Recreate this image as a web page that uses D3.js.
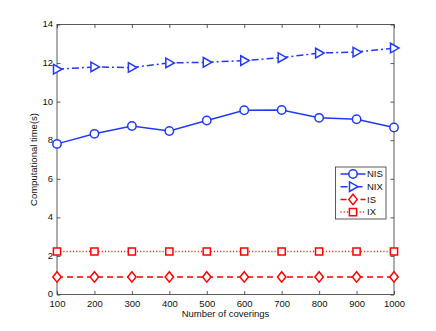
<!DOCTYPE html>
<html>
<head>
<meta charset="utf-8">
<script src="https://cdn.jsdelivr.net/npm/d3@7"></script>
<style>
  body { margin: 0; background: #fff; }
  text { font-family: "Liberation Sans", Arial, sans-serif; }
</style>
</head>
<body>
<div id="canvas"></div>
<script>
"use strict";

/* Data */
let coverings = [100, 200, 300, 400, 500, 600, 700, 800, 900, 1000];
let nisTimes = [7.81, 8.33, 8.74, 8.48, 9.02, 9.55, 9.57, 9.16, 9.09, 8.66];
let nixTimes = [11.68, 11.80, 11.77, 12.01, 12.04, 12.13, 12.28, 12.52, 12.57, 12.78];
let isTimes = [0.91, 0.91, 0.91, 0.91, 0.91, 0.91, 0.91, 0.91, 0.91, 0.91];
let ixTimes = [2.23, 2.23, 2.23, 2.23, 2.23, 2.23, 2.23, 2.23, 2.23, 2.23];
let xTicks = [100, 200, 300, 400, 500, 600, 700, 800, 900, 1000];
let yTicks = [0, 2, 4, 6, 8, 10, 12, 14];
let seriesNames = ["NIS", "NIX", "IS", "IX"];

/* Drawing configuration */
let svgWidth = 436;
let svgHeight = 331;
let plotLeft = 57;
let plotRight = 394;
let plotTop = 24.5;
let plotBottom = 294.5;
let blue = "#2339f5";
let red = "#ff0000";

let svg = d3.select("#canvas")
  .append("svg")
  .attr("width", svgWidth)
  .attr("height", svgHeight);

let xScale = d3.scaleLinear()
  .domain([100, 1000])
  .range([plotLeft, plotRight]);

let yScale = d3.scaleLinear()
  .domain([0, 14])
  .range([plotBottom, plotTop]);

/* Axes box with inward ticks like MATLAB */
let tickLen = 3.5;
let axisColor = "#333";

svg.append("rect")
  .attr("x", plotLeft)
  .attr("y", plotTop)
  .attr("width", plotRight - plotLeft)
  .attr("height", plotBottom - plotTop)
  .attr("fill", "none")
  .attr("stroke", axisColor)
  .attr("stroke-width", 0.8);

let bottomAxis = d3.axisBottom(xScale).tickValues(xTicks).tickFormat(d3.format("d"))
  .tickSizeInner(-tickLen).tickSizeOuter(0).tickPadding(5.5);
let topAxis = d3.axisTop(xScale).tickValues(xTicks).tickSizeInner(-tickLen).tickSizeOuter(0).tickFormat("");
let leftAxis = d3.axisLeft(yScale).tickValues(yTicks).tickSizeInner(-tickLen).tickSizeOuter(0).tickPadding(4);
let rightAxis = d3.axisRight(yScale).tickValues(yTicks).tickSizeInner(-tickLen).tickSizeOuter(0).tickFormat("");

function styleAxis(g) {
  g.select(".domain").remove();
  g.selectAll(".tick line").attr("stroke", axisColor).attr("stroke-width", 0.8);
  g.selectAll(".tick text")
    .attr("fill", "#111")
    .style("font-size", "9.5px");
}

svg.append("g").attr("transform", "translate(0," + plotBottom + ")").call(bottomAxis).call(styleAxis);
svg.append("g").attr("transform", "translate(0," + plotTop + ")").call(topAxis).call(styleAxis);
svg.append("g").attr("transform", "translate(" + plotLeft + ",0)").call(leftAxis).call(styleAxis)
  .selectAll(".tick text").attr("dy", "0.25em");
svg.append("g").attr("transform", "translate(" + plotRight + ",0)").call(rightAxis).call(styleAxis);

/* Axis labels */
svg.append("text")
  .attr("x", (plotLeft + plotRight) / 2)
  .attr("y", 317)
  .attr("text-anchor", "middle")
  .attr("fill", "#111")
  .style("font-size", "9.5px")
  .text("Number of coverings");

svg.append("text")
  .attr("transform", "translate(37," + ((plotTop + plotBottom) / 2) + ") rotate(-90)")
  .attr("text-anchor", "middle")
  .attr("fill", "#111")
  .style("font-size", "9.5px")
  .text("Computational time(s)");

/* Series definitions */
let series = [
  { name: seriesNames[0], values: nisTimes, color: blue, dash: null, marker: "circle" },
  { name: seriesNames[1], values: nixTimes, color: blue, dash: "7,3,2,3", marker: "triangle" },
  { name: seriesNames[2], values: isTimes, color: red, dash: "6,4", marker: "diamond" },
  { name: seriesNames[3], values: ixTimes, color: red, dash: "1,2.2", marker: "square" }
];

let markerPaths = {
  circle: "M4.2,0A4.2,4.2 0 1,1 -4.2,0A4.2,4.2 0 1,1 4.2,0Z",
  triangle: "M-3.5,-4.8L5,0L-3.5,4.8Z",
  diamond: "M0,-5.2L4.2,0L0,5.2L-4.2,0Z",
  square: "M-3.6,-3.6H3.6V3.6H-3.6Z"
};

let line = d3.line()
  .x(function (d) { return xScale(d.x); })
  .y(function (d) { return yScale(d.y); });

series.forEach(function (s) {
  let points = coverings.map(function (c, i) { return { x: c, y: s.values[i] }; });
  svg.append("path")
    .datum(points)
    .attr("d", line)
    .attr("fill", "none")
    .attr("stroke", s.color)
    .attr("stroke-width", 1.5)
    .attr("stroke-dasharray", s.dash);
  svg.selectAll(null)
    .data(points)
    .enter()
    .append("path")
    .attr("transform", function (d) { return "translate(" + xScale(d.x) + "," + yScale(d.y) + ")"; })
    .attr("d", markerPaths[s.marker])
    .attr("fill", "#fff")
    .attr("stroke", s.color)
    .attr("stroke-width", 1.5);
});

/* Legend */
let legendX = 335.5;
let legendY = 167;
let legendW = 50.5;
let legendH = 52;
let legend = svg.append("g");

legend.append("rect")
  .attr("x", legendX)
  .attr("y", legendY)
  .attr("width", legendW)
  .attr("height", legendH)
  .attr("fill", "#fff")
  .attr("stroke", axisColor)
  .attr("stroke-width", 0.8);

series.forEach(function (s, i) {
  let rowY = legendY + 7 + i * 12.7;
  legend.append("line")
    .attr("x1", legendX + 5)
    .attr("x2", legendX + 30)
    .attr("y1", rowY)
    .attr("y2", rowY)
    .attr("stroke", s.color)
    .attr("stroke-width", 1.5)
    .attr("stroke-dasharray", s.dash);
  legend.append("path")
    .attr("transform", "translate(" + (legendX + 17.5) + "," + rowY + ")")
    .attr("d", markerPaths[s.marker])
    .attr("fill", "#fff")
    .attr("stroke", s.color)
    .attr("stroke-width", 1.5);
  legend.append("text")
    .attr("x", legendX + 31.5)
    .attr("y", rowY)
    .attr("dy", "0.35em")
    .attr("fill", "#111")
    .style("font-size", "9.5px")
    .text(s.name);
});
</script>
</body>
</html>
